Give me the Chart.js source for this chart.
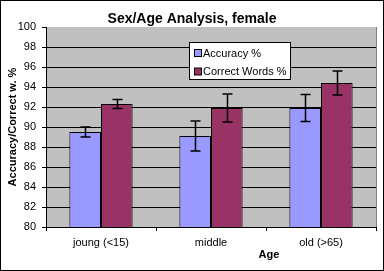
<!DOCTYPE html>
<html>
<head>
<meta charset="utf-8">
<script src="https://cdn.jsdelivr.net/npm/chart.js@4/dist/chart.umd.min.js"></script>
<style>
  html, body { margin: 0; padding: 0; background: #fff; }
  #wrap { width: 384px; height: 271px; position: relative; }
</style>
</head>
<body>
<div id="wrap"><canvas id="grafico" width="384" height="271"></canvas></div>
<script>
const categorias = ['joung (<15)', 'middle', 'old (>65)'];
const precision = [89.5, 89.1, 91.9];
const precisionErr = [0.5, 1.5, 1.35];
const palabras = [92.3, 91.9, 94.4];
const palabrasErr = [0.45, 1.4, 1.2];
const ticksY = [80, 82, 84, 86, 88, 90, 92, 94, 96, 98, 100];

const fondoPlot = {
    id: 'fondoPlot',
    beforeDraw(chart) {
        const { ctx, chartArea: a } = chart;
        ctx.save();
        ctx.fillStyle = '#fff';
        ctx.fillRect(0, 0, chart.width, chart.height);
        ctx.fillStyle = '#C0C0C0';
        ctx.fillRect(a.left, a.top, a.right - a.left, a.bottom - a.top);
        ctx.restore();
    },
    afterDraw(chart) {
        const { ctx, chartArea: a } = chart;
        ctx.save();
        // borde derecho gris del area
        ctx.strokeStyle = '#808080';
        ctx.lineWidth = 1;
        ctx.beginPath();
        ctx.moveTo(a.right + 0.5, a.top);
        ctx.lineTo(a.right + 0.5, a.bottom);
        ctx.stroke();
        // marco exterior
        ctx.strokeStyle = '#000';
        ctx.strokeRect(0.5, 0.5, chart.width - 1, chart.height - 1);
        // titulo
        ctx.fillStyle = '#000';
        ctx.font = 'bold 14px "Liberation Sans", Arial, sans-serif';
        ctx.textAlign = 'center';
        ctx.textBaseline = 'middle';
        ctx.fillText('Sex/Age Analysis, female', 192, 19);
        // titulo eje x
        ctx.font = 'bold 11px "Liberation Sans", Arial, sans-serif';
        ctx.fillText('Age', 269, 255);
        // leyenda
        ctx.fillStyle = '#fff';
        ctx.fillRect(189, 42, 102, 38);
        ctx.strokeStyle = '#000';
        ctx.strokeRect(189.5, 42.5, 101, 37);
        ctx.font = '11px "Liberation Sans", Arial, sans-serif';
        ctx.textAlign = 'left';
        chart.data.datasets.forEach((ds, i) => {
            const y = 53 + i * 18.5;
            ctx.fillStyle = ds.backgroundColor;
            ctx.fillRect(194.5, y - 3.5, 7, 7);
            ctx.strokeRect(194.5, y - 3.5, 7, 7);
            ctx.fillStyle = '#000';
            ctx.fillText(ds.label, 203, y + 0.5);
        });
        ctx.restore();
    }
};

const barrasError = {
    id: 'barrasError',
    afterDatasetsDraw(chart) {
        const { ctx } = chart;
        const y = chart.scales.y;
        ctx.save();
        ctx.strokeStyle = '#000';
        ctx.lineWidth = 1.5;
        chart.data.datasets.forEach((ds, i) => {
            const meta = chart.getDatasetMeta(i);
            meta.data.forEach((bar, j) => {
                const x = Math.round(bar.x) + 0.5;
                const hi = y.getPixelForValue(ds.data[j] + ds.errores[j]);
                const lo = y.getPixelForValue(ds.data[j] - ds.errores[j]);
                ctx.beginPath();
                ctx.moveTo(x, hi); ctx.lineTo(x, lo);
                ctx.moveTo(x - 5, hi); ctx.lineTo(x + 5, hi);
                ctx.moveTo(x - 5, lo); ctx.lineTo(x + 5, lo);
                ctx.stroke();
            });
        });
        ctx.restore();
    }
};

const contexto = document.getElementById('grafico').getContext('2d');
new Chart(contexto, {
    type: 'bar',
    data: {
        labels: categorias,
        datasets: [{
            label: 'Accuracy %',
            data: precision,
            errores: precisionErr,
            backgroundColor: '#9999FF',
            borderColor: '#000',
            borderWidth: 1
        }, {
            label: 'Correct Words %',
            data: palabras,
            errores: palabrasErr,
            backgroundColor: '#993366',
            borderColor: '#000',
            borderWidth: 1
        }]
    },
    options: {
        responsive: false,
        animation: false,
        devicePixelRatio: 1,
        layout: { padding: { top: 27, right: 8, left: 0, bottom: 0 } },
        datasets: { bar: { categoryPercentage: 0.575, barPercentage: 1 } },
        plugins: {
            legend: { display: false },
            title: { display: false },
            tooltip: { enabled: false }
        },
        scales: {
            x: {
                afterFit(s) { s.height = 44; },
                grid: { drawOnChartArea: false, tickLength: 4, color: '#000', offset: true },
                border: { color: '#000', width: 1 },
                ticks: {
                    color: '#000',
                    padding: 5,
                    font: { family: '"Liberation Sans", Arial, sans-serif', size: 11 }
                }
            },
            y: {
                min: 80,
                max: 100,
                afterFit(s) { s.width = 46; },
                afterBuildTicks(s) { s.ticks = ticksY.map(v => ({ value: v })); },
                grid: {
                    color: c => (c.tick && c.tick.value === 100) ? 'rgba(0,0,0,0)' : '#000',
                    borderDash: [4, 3],
                    tickLength: 4,
                    tickColor: '#000',
                    tickBorderDash: []
                },
                border: { color: '#000', width: 1 },
                ticks: {
                    color: '#000',
                    padding: 6,
                    font: { family: '"Liberation Sans", Arial, sans-serif', size: 11 }
                },
                title: {
                    display: true,
                    text: 'Accuracy/Correct w. %',
                    color: '#000',
                    padding: { top: 6, bottom: 0 },
                    font: { family: '"Liberation Sans", Arial, sans-serif', size: 11, weight: 'bold' }
                }
            }
        }
    },
    plugins: [fondoPlot, barrasError]
});
</script>
</body>
</html>
